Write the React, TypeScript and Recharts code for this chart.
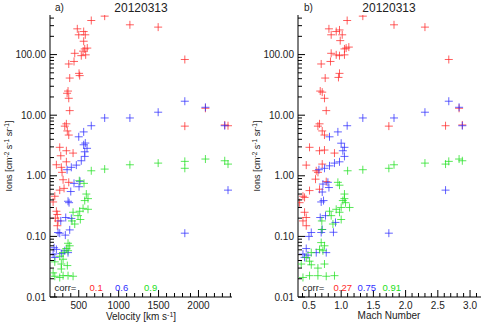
import React from 'react';
import { ScatterChart, Scatter, XAxis, YAxis } from 'recharts';

// [velocity km/s, ions]
const velocityRed: [number, number][] = [
  [825, 431], [657, 365], [482, 266], [562, 240], [500, 212], [582, 212], [562, 166], [575, 124],
  [607, 128], [554, 114], [450, 105], [532, 96], [587, 99], [441, 77], [375, 70], [504, 49],
  [512, 45], [387, 41], [366, 25], [354, 23], [375, 19], [387, 11.9], [345, 7.2], [325, 6.6],
  [357, 5.5], [375, 4.7], [262, 2.95], [345, 2.59], [429, 2.37], [1141, 310], [1495, 284],
  [1829, 83], [2087, 13], [1829, 6.6], [2329, 6.9], [2370, 6.7], [275, 2.14], [220, 1.52],
  [345, 1.7], [282, 1.38], [291, 1.14], [304, 0.86], [375, 0.78], [262, 0.58], [316, 0.62],
  [200, 0.46], [179, 0.37], [220, 0.26], [232, 0.23], [207, 0.2], [241, 0.18], [232, 0.15],
];
const velocityBlue: [number, number][] = [
  [825, 9.0], [657, 6.7], [562, 5.3], [500, 4.4], [582, 3.47], [562, 3.25], [604, 2.84], [575, 2.49],
  [575, 2.09], [532, 1.77], [470, 1.5], [407, 1.38], [354, 1.26], [516, 0.81], [441, 0.75],
  [504, 0.66], [400, 0.55], [366, 0.38], [379, 0.36], [337, 0.205], [407, 0.198], [275, 0.18],
  [241, 0.116], [262, 0.113], [387, 0.128], [332, 0.105], [191, 0.065], [220, 0.061], [325, 0.058],
  [366, 0.054], [179, 0.051], [282, 0.052], [200, 0.045], [1141, 9.0], [1495, 11.2], [1829, 17],
  [2087, 13.5], [2329, 6.7], [2370, 0.58], [1829, 0.113],
];
const velocityGreen: [number, number][] = [
  [657, 1.21], [825, 1.29], [566, 0.75], [507, 0.83], [595, 0.5], [575, 0.39], [616, 0.42],
  [554, 0.29], [616, 0.28], [512, 0.26], [491, 0.22], [520, 0.19], [429, 0.25], [450, 0.16],
  [416, 0.18], [366, 0.077], [387, 0.07], [345, 0.063], [366, 0.058], [304, 0.054], [262, 0.047],
  [304, 0.042], [200, 0.038], [282, 0.035], [357, 0.033], [282, 0.029], [179, 0.025], [200, 0.022],
  [304, 0.0225], [366, 0.0225], [429, 0.022], [262, 0.021], [1141, 1.52], [1495, 1.62],
  [1829, 1.73], [1829, 1.33], [2087, 1.89], [2329, 1.77], [2370, 1.56],
];

// [mach number, ions]
const machRed: [number, number][] = [
  [1.093, 365], [1.336, 431], [0.81, 266], [0.923, 240], [0.974, 255], [0.845, 212], [1.016, 212],
  [0.985, 170], [1.051, 124], [1.077, 128], [1.119, 133], [0.845, 105], [0.923, 99], [0.974, 96],
  [1.051, 99], [0.834, 77], [0.69, 70], [0.974, 49], [0.958, 42], [0.752, 41], [0.675, 25],
  [0.706, 24], [0.741, 19], [0.768, 11.9], [0.664, 7.2], [0.639, 6.6], [0.706, 5.5], [0.741, 4.7],
  [0.509, 2.95], [0.664, 2.59], [0.741, 2.66], [0.896, 2.37], [1.82, 310], [2.3, 284], [2.67, 83],
  [2.83, 13], [2.62, 6.7], [2.88, 6.9], [1.74, 6.6], [0.458, 1.5], [0.613, 1.21], [0.706, 1.56],
  [0.64, 1.14], [0.602, 0.88], [0.768, 0.8], [0.509, 0.57], [0.664, 0.6], [0.355, 0.36],
  [0.407, 0.46], [0.432, 0.44], [0.432, 0.25], [0.458, 0.205], [0.407, 0.18], [0.458, 0.15],
];
const machBlue: [number, number][] = [
  [1.336, 9.0], [1.093, 6.7], [0.949, 5.3], [0.819, 4.4], [1.0, 3.45], [1.051, 2.95], [1.026, 2.59],
  [1.051, 2.09], [0.974, 1.7], [0.896, 1.62], [0.819, 1.46], [0.741, 1.33], [0.655, 1.26],
  [0.794, 0.78], [0.717, 0.73], [0.81, 0.64], [0.706, 0.54], [0.69, 0.37], [0.726, 0.39],
  [0.675, 0.205], [0.757, 0.22], [0.912, 0.17], [0.706, 0.13], [0.536, 0.116], [0.5, 0.1],
  [0.69, 0.116], [0.88, 0.117], [0.458, 0.063], [0.407, 0.051], [0.613, 0.054], [0.768, 0.054],
  [0.485, 0.049], [0.432, 0.045], [1.82, 9.0], [2.3, 11.2], [2.67, 17], [2.83, 13.5], [2.88, 6.7],
  [2.62, 0.58], [1.74, 0.113],
];
const machGreen: [number, number][] = [
  [1.1, 1.21], [1.336, 1.26], [0.949, 0.78], [0.974, 0.7], [1.051, 0.5], [1.026, 0.39], [1.067, 0.36],
  [1.0, 0.3], [0.923, 0.28], [0.819, 0.26], [0.974, 0.25], [0.845, 0.22], [1.0, 0.19], [0.872, 0.16],
  [1.13, 0.3], [1.05, 0.42], [0.7, 0.18], [0.7, 0.13], [0.69, 0.079], [0.741, 0.07], [0.664, 0.061],
  [0.717, 0.058], [0.536, 0.054], [0.458, 0.045], [0.509, 0.039], [0.38, 0.035], [0.536, 0.034],
  [0.741, 0.035], [0.639, 0.03], [0.407, 0.021], [0.509, 0.0225], [0.639, 0.0225], [0.768, 0.022],
  [0.896, 0.0225], [1.74, 1.33], [1.82, 1.52], [2.3, 1.62], [2.62, 1.56], [2.67, 1.73], [2.83, 1.89],
  [2.88, 1.77],
];

const ionDomain: [number, number] = [0.01, 450];
const ionTicks: number[] = [];
[0.01, 0.1, 1, 10, 100].forEach((d) => {
  for (let m = 1; m <= 9; m++) {
    const v = Number((m * d).toPrecision(3));
    if (v <= ionDomain[1]) ionTicks.push(v);
  }
});
const velocityDomain: [number, number] = [140, 2420];
const velocityTicks = Array.from({ length: 23 }, (_, i) => 200 + i * 100);
const velocityLabels = [500, 1000, 1500, 2000];
const machDomain: [number, number] = [0.33, 3.17];
const machTicks = Array.from({ length: 28 }, (_, i) => Number((0.4 + i * 0.1).toFixed(1)));
const machLabels = [0.5, 1.0, 1.5, 2.0, 2.5, 3.0];

const RED = '#ff2a2a';
const BLUE = '#2f2fff';
const GREEN = '#22e022';
const FONT = '"Liberation Sans", Arial, sans-serif';

const toPoints = (arr: [number, number][]) => arr.map(([x, y]) => ({ x, y }));

function Plus(color: string) {
  return (props: any) => {
    const { cx, cy } = props;
    if (cx == null || cy == null) return null;
    return (
      <g stroke={color} strokeWidth={1} strokeOpacity={0.75}>
        <line x1={cx - 4} y1={cy} x2={cx + 4} y2={cy} />
        <line x1={cx} y1={cy - 4} x2={cx} y2={cy + 4} />
      </g>
    );
  };
}

const isDecade = (v: number) => Math.abs(Math.log10(v) - Math.round(Math.log10(v))) < 1e-6;

function makeTick(side: string, isMajor: (v: number) => boolean, fmt?: (v: number) => string) {
  return (props: any) => {
    const { x, y, payload } = props;
    const v = payload.value;
    const major = isMajor(v);
    const len = major ? 7 : 4;
    let line;
    let label = null;
    if (side === 'bottom') {
      line = <line x1={x} y1={y} x2={x} y2={y - len} stroke="#000" />;
      if (fmt && major)
        label = (
          <text x={x} y={y + 12} textAnchor="middle" fontSize={10} fontFamily={FONT} fill="#222">
            {fmt(v)}
          </text>
        );
    } else if (side === 'top') {
      line = <line x1={x} y1={y} x2={x} y2={y + len} stroke="#000" />;
    } else if (side === 'left') {
      line = <line x1={x} y1={y} x2={x + len} y2={y} stroke="#000" />;
      if (fmt && major)
        label = (
          <text x={x - 4} y={y} dy="0.35em" textAnchor="end" fontSize={10} fontFamily={FONT} fill="#222">
            {fmt(v)}
          </text>
        );
    } else {
      line = <line x1={x} y1={y} x2={x - len} y2={y} stroke="#000" />;
    }
    return (
      <g>
        {line}
        {label}
      </g>
    );
  };
}

interface PanelProps {
  domain: [number, number];
  ticks: number[];
  labels: number[];
  fmt: (v: number) => string;
  red: [number, number][];
  blue: [number, number][];
  green: [number, number][];
  marginRight: number;
}

function Panel({ domain, ticks, labels, fmt, red, blue, green, marginRight }: PanelProps) {
  const isMajorX = (v: number) => labels.some((l) => Math.abs(l - v) < 1e-6);
  const axisLine = { stroke: '#000', strokeWidth: 1 };
  return (
    <ScatterChart width={248} height={327} margin={{ top: 15, right: marginRight, bottom: 0, left: 0 }}>
      <XAxis
        type="number"
        dataKey="x"
        domain={domain}
        allowDataOverflow
        ticks={ticks}
        interval={0}
        height={30}
        tickSize={0}
        tickMargin={0}
        tickLine={false}
        axisLine={axisLine}
        tick={makeTick('bottom', isMajorX, fmt)}
      />
      <XAxis
        xAxisId="top"
        orientation="top"
        type="number"
        domain={domain}
        allowDataOverflow
        ticks={ticks}
        interval={0}
        height={0}
        tickSize={0}
        tickMargin={0}
        tickLine={false}
        axisLine={axisLine}
        tick={makeTick('top', isMajorX)}
      />
      <YAxis
        type="number"
        dataKey="y"
        scale="log"
        domain={ionDomain}
        allowDataOverflow
        ticks={ionTicks}
        interval={0}
        width={50}
        tickSize={0}
        tickMargin={0}
        tickLine={false}
        axisLine={axisLine}
        tick={makeTick('left', isDecade, (v) => v.toFixed(2))}
      />
      <YAxis
        yAxisId="r"
        orientation="right"
        type="number"
        scale="log"
        domain={ionDomain}
        allowDataOverflow
        ticks={ionTicks}
        interval={0}
        width={0}
        tickSize={0}
        tickMargin={0}
        tickLine={false}
        axisLine={axisLine}
        tick={makeTick('right', isDecade)}
      />
      <Scatter data={toPoints(red)} shape={Plus(RED)} isAnimationActive={false} />
      <Scatter data={toPoints(blue)} shape={Plus(BLUE)} isAnimationActive={false} />
      <Scatter data={toPoints(green)} shape={Plus(GREEN)} isAnimationActive={false} />
    </ScatterChart>
  );
}

function YLabel({ x }: { x: number }) {
  return (
    <text transform={`translate(${x},156) rotate(-90)`} textAnchor="middle" fontSize={9} fontFamily={FONT} fill="#222">
      Ions [cm<tspan dy={-3} fontSize={6.5}>-2</tspan>
      <tspan dy={3}> s</tspan>
      <tspan dy={-3} fontSize={6.5}>-1</tspan>
      <tspan dy={3}> sr</tspan>
      <tspan dy={-3} fontSize={6.5}>-1</tspan>
      <tspan dy={3}>]</tspan>
    </text>
  );
}

export default function App() {
  const t = { fontFamily: FONT, fill: '#222' };
  return (
    <div style={{ position: 'absolute', left: 0, top: 0, width: 496, height: 327, background: '#fff' }}>
      <div style={{ position: 'absolute', left: 0, top: 0 }}>
        <Panel
          domain={velocityDomain}
          ticks={velocityTicks}
          labels={velocityLabels}
          fmt={(v) => String(v)}
          red={velocityRed}
          blue={velocityBlue}
          green={velocityGreen}
          marginRight={16}
        />
      </div>
      <div style={{ position: 'absolute', left: 248, top: 0 }}>
        <Panel
          domain={machDomain}
          ticks={machTicks}
          labels={machLabels}
          fmt={(v) => v.toFixed(1)}
          red={machRed}
          blue={machBlue}
          green={machGreen}
          marginRight={15}
        />
      </div>
      <svg width={496} height={327} style={{ position: 'absolute', left: 0, top: 0, pointerEvents: 'none' }}>
        <text x={55} y={10.5} fontSize={10} {...t}>a)</text>
        <text x={141} y={11.7} fontSize={12} textAnchor="middle" {...t}>20120313</text>
        <text x={304} y={10.5} fontSize={10} {...t}>b)</text>
        <text x={389} y={11.7} fontSize={12} textAnchor="middle" {...t}>20120313</text>
        <YLabel x={11.5} />
        <YLabel x={259.5} />
        <text x={141} y={319.5} fontSize={10} textAnchor="middle" {...t}>
          Velocity [km s<tspan dy={-3} fontSize={7}>-1</tspan>
          <tspan dy={3}>]</tspan>
        </text>
        <text x={389} y={318.5} fontSize={10} textAnchor="middle" {...t}>Mach Number</text>
        <g fontSize={9.5} fontFamily={FONT}>
          <text x={54.5} y={291} fill="#222">corr=</text>
          <text x={89.5} y={291} fill={RED}>0.1</text>
          <text x={115} y={291} fill={BLUE}>0.6</text>
          <text x={144} y={291} fill={GREEN}>0.9</text>
          <text x={302.5} y={291} fill="#222">corr=</text>
          <text x={333.5} y={291} fill={RED}>0.27</text>
          <text x={357.5} y={291} fill={BLUE}>0.75</text>
          <text x={382.5} y={291} fill={GREEN}>0.91</text>
        </g>
      </svg>
    </div>
  );
}
